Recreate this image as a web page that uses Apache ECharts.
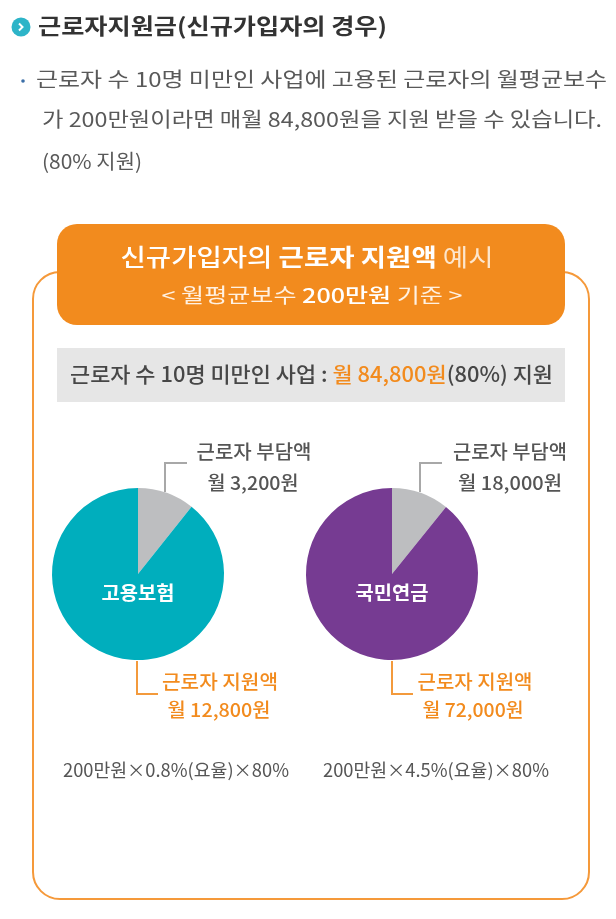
<!DOCTYPE html>
<html>
<head>
<meta charset="utf-8">
<script src="https://cdn.jsdelivr.net/npm/echarts@6/dist/echarts.min.js"></script>
<style>
html,body{margin:0;padding:0;background:#fff;}
#chart{width:616px;height:919px;}
</style>
</head>
<body>
<div id="chart"></div>
<script>
// ---- data ----
const sliceNames = ['근로자 부담액', '근로자 지원액'];
const insuranceNames = ['고용보험', '국민연금'];
const employmentAmounts = [3200, 12800];
const pensionAmounts = [18000, 72000];
// slice shares (%) as drawn in the picture
const employmentShares = [10.7, 89.3];
const pensionShares = [10.8, 89.2];
const formulaTexts = ['200만원×0.8%(요율)×80%', '200만원×4.5%(요율)×80%'];
const titleText = '근로자지원금(신규가입자의 경우)';
const bodyLines = [
  '근로자 수 10명 미만인 사업에 고용된 근로자의 월평균보수',
  '가 200만원이라면 매월 84,800원을 지원 받을 수 있습니다.',
  '(80% 지원)'
];

const FONT = '"Noto Sans CJK KR","Noto Sans",sans-serif';
const ORANGE = '#F28B1E';
const fmt = n => String(n).replace(/\B(?=(\d{3})+(?!\d))/g, ',');

const cv = document.createElement('canvas').getContext('2d');
function mw(text, size, weight) {
  cv.font = (weight || 'normal') + ' ' + size + 'px ' + FONT;
  return cv.measureText(text).width;
}
// plain text element scaled to a target width
function txt(text, x, y, size, weight, color, target, align) {
  const w = mw(text, size, weight);
  return {
    type: 'text', x: x, y: y, z: 100, scaleX: target ? target / w : 1, silent: true,
    style: { text: text, x: 0, y: 0, fontSize: size, fontWeight: weight || 'normal',
      fontFamily: FONT, fill: color, align: align || 'left', verticalAlign: 'middle' }
  };
}
// rich text: segs = [[text, weight, color], ...]
function rich(segs, x, y, size, target, align) {
  const richStyles = {};
  let str = '', w = 0;
  segs.forEach((s, i) => {
    richStyles['s' + i] = { fontSize: size, fontWeight: s[1], fill: s[2], fontFamily: FONT };
    str += '{s' + i + '|' + s[0] + '}';
    w += mw(s[0], size, s[1]);
  });
  return {
    type: 'text', x: x, y: y, z: 100, scaleX: target ? target / w : 1, silent: true,
    style: { text: str, rich: richStyles, x: 0, y: 0, fontSize: size, fontFamily: FONT,
      align: align || 'left', verticalAlign: 'middle' }
  };
}
function poly(points, color) {
  return { type: 'polyline', silent: true, z: 100, shape: { points: points },
    style: { stroke: color, lineWidth: 2, fill: null } };
}

const chart = echarts.init(document.getElementById('chart'), null, { renderer: 'canvas' });

function pieSeries(center, shares, color) {
  return {
    type: 'pie', center: center, radius: 86, startAngle: 90, clockwise: true,
    silent: true, animation: false, z: 2,
    label: { show: false }, labelLine: { show: false },
    emphasis: { disabled: true },
    itemStyle: { borderWidth: 0 },
    data: shares.map((v, i) => ({ name: sliceNames[i], value: v,
      itemStyle: { color: i === 0 ? '#BDBEC0' : color } }))
  };
}

const MED = 500;

const graphics = [
  // header
  { type: 'circle', z: 100, shape: { cx: 21, cy: 27, r: 9.5 }, style: { fill: '#2DB4C8' }, silent: true },
  poly([[19, 23.5], [22.5, 27], [19, 30.5]], '#ffffff'),
  txt(titleText, 38, 26, 22, 'bold', '#333333', 349),
  { type: 'circle', z: 100, shape: { cx: 23, cy: 81, r: 1.8 }, style: { fill: '#3B6FA8' }, silent: true },
  txt(bodyLines[0], 36, 79, 20, 'normal', '#595959', 571),
  txt(bodyLines[1], 42, 119, 20, 'normal', '#595959', 560),
  txt(bodyLines[2], 42, 161, 20, 'normal', '#595959', 100),
  // outer frame
  { type: 'rect', z: 10, shape: { x: 33, y: 272, width: 556, height: 627, r: 27 }, silent: true,
    style: { fill: null, stroke: '#F5993A', lineWidth: 2 } },
  // orange header box
  { type: 'rect', z: 20, shape: { x: 57, y: 224, width: 508, height: 101, r: 20 }, silent: true,
    style: { fill: ORANGE } },
  rich([['신규가입자의 ', MED, '#ffffff'], ['근로자 지원액', 'bold', '#ffffff'], [' 예시', 'normal', '#FDE6CC']],
    307, 257, 24, 373, 'center'),
  rich([['< 월평균보수 ', 'normal', '#FFF1E2'], ['200만원', MED, '#ffffff'], [' 기준 >', 'normal', '#FFF1E2']],
    312, 295, 20, 301, 'center'),
  // gray band
  { type: 'rect', z: 20, shape: { x: 57, y: 348, width: 508, height: 54 }, silent: true,
    style: { fill: '#E6E6E6' } },
  rich([['근로자 수 10명 미만인 사업 : ', MED, '#474747'], ['월 84,800원', MED, ORANGE], ['(80%) 지원', MED, '#474747']],
    70, 374, 21, 483, 'left'),
  // pie centre labels
  txt(insuranceNames[0], 138, 593, 19, 'bold', '#ffffff', 73, 'center'),
  txt(insuranceNames[1], 392, 593, 19, 'bold', '#ffffff', 73, 'center'),
  // leader lines
  poly([[165, 492], [165, 463], [187, 463]], '#A8A8A8'),
  poly([[420, 492], [420, 463], [442, 463]], '#A8A8A8'),
  poly([[137, 661], [137, 694], [158, 694]], '#F39A3C'),
  poly([[392, 661], [392, 694], [413, 694]], '#F39A3C'),
  // slice labels
  txt(sliceNames[0], 254, 452, 19, MED, '#555555', 115, 'center'),
  txt('월 ' + fmt(employmentAmounts[0]) + '원', 253, 483, 19, MED, '#555555', 91, 'center'),
  txt(sliceNames[0], 510, 452, 19, MED, '#555555', 114, 'center'),
  txt('월 ' + fmt(pensionAmounts[0]) + '원', 510, 483, 19, MED, '#555555', 104, 'center'),
  txt(sliceNames[1], 220, 682, 19, MED, ORANGE, 116, 'center'),
  txt('월 ' + fmt(employmentAmounts[1]) + '원', 219, 710, 19, MED, ORANGE, 103, 'center'),
  txt(sliceNames[1], 475, 682, 19, MED, ORANGE, 115, 'center'),
  txt('월 ' + fmt(pensionAmounts[1]) + '원', 473, 710, 19, MED, ORANGE, 101, 'center'),
  // formulas
  txt(formulaTexts[0], 63, 770, 18, 'normal', '#555555', 226),
  txt(formulaTexts[1], 323, 770, 18, 'normal', '#555555', 226)
];

chart.setOption({
  animation: false,
  backgroundColor: '#ffffff',
  series: [
    pieSeries([138, 574], employmentShares, '#00AEBD'),
    pieSeries([392, 574], pensionShares, '#763B92')
  ],
  graphic: { elements: graphics }
});
</script>
</body>
</html>
